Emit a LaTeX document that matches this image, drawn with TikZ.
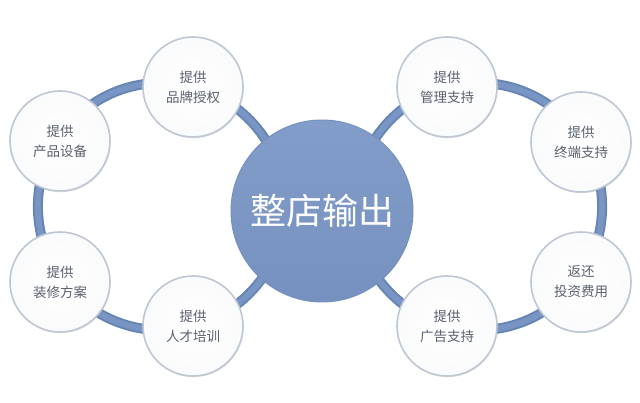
\documentclass[tikz,border=0pt]{standalone}
\usepackage{fontspec}
\setmainfont{Noto Sans CJK SC}
\usetikzlibrary{shadows}
\definecolor{ringdark}{HTML}{6785B4}
\definecolor{ringlight}{HTML}{7895C3}
\definecolor{hubtop}{HTML}{829DC9}
\definecolor{hubbot}{HTML}{7691BF}
\definecolor{hubedge}{HTML}{7591BE}
\definecolor{bubedge}{HTML}{BFC6D4}
\definecolor{bubtext}{HTML}{5A606E}
\tikzset{
  bubble/.style={circle, minimum size=100pt, inner sep=0pt, draw=bubedge, line width=1.6pt,
    inner color=white, outer color=white!92!bubedge,
    drop shadow={shadow xshift=0.6pt, shadow yshift=-1.2pt, opacity=0.2, fill=black!60},
    text=bubtext, align=center, font=\fontsize{13.5}{20}\selectfont},
  hub/.style={circle, minimum size=182pt, inner sep=0pt, draw=hubedge, line width=1pt,
    top color=hubtop, bottom color=hubbot,
    text=white, font=\fontsize{36}{40}\selectfont},
  ringline/.style={draw=ringdark, line width=10pt},
  ringcore/.style={draw=ringlight, line width=6pt}
}
\begin{document}
\begin{tikzpicture}[x=1pt,y=-1pt]
\useasboundingbox[fill=white] (0,0) rectangle (640,403);
% rings
\coordinate (lc) at (161.5,206.5);
\coordinate (rc) at (478.5,206.5);
\draw[ringline] (lc) circle[radius=123.6pt];
\draw[ringcore] (lc) circle[radius=123.6pt];
\draw[ringline] (rc) circle[radius=123.6pt];
\draw[ringcore] (rc) circle[radius=123.6pt];
% hub
\node[hub] (hub) at (322,211) {整店输出};
% bubbles
\node[bubble] (b1) at (193,87) {提供\\品牌授权};
\node[bubble] (b2) at (60,141) {提供\\产品设备};
\node[bubble] (b3) at (60,282) {提供\\装修方案};
\node[bubble] (b4) at (193,326) {提供\\人才培训};
\node[bubble] (b5) at (447,87) {提供\\管理支持};
\node[bubble] (b6) at (581,142) {提供\\终端支持};
\node[bubble] (b7) at (581,282) {返还\\投资费用};
\node[bubble] (b8) at (447,326) {提供\\广告支持};
\end{tikzpicture}
\end{document}
